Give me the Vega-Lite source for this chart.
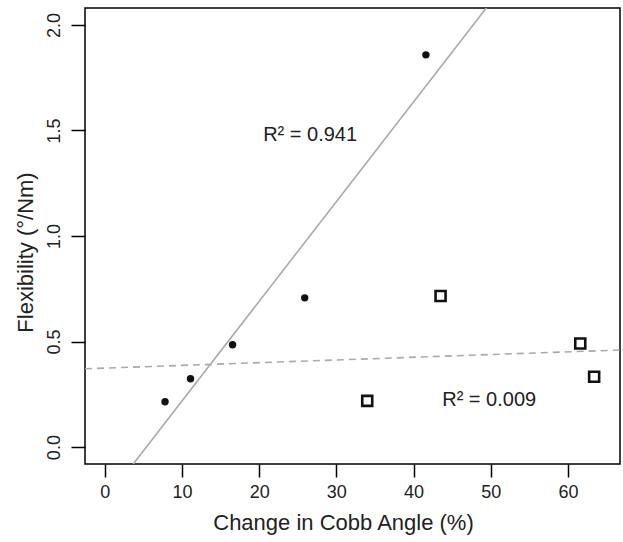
{
  "$schema": "https://vega.github.io/schema/vega-lite/v6.json",
  "autosize": {"type": "none"},
  "padding": {"left": 85, "top": 8, "right": 3, "bottom": 78},
  "width": 535,
  "height": 456,
  "background": "white",
  "config": {
    "view": {"stroke": "black", "strokeWidth": 1.5},
    "font": "Liberation Sans",
    "axis": {
      "grid": false,
      "domain": false,
      "ticks": true,
      "tickColor": "black",
      "tickWidth": 1.5,
      "labelColor": "#222222",
      "titleColor": "#222222",
      "labelFont": "Liberation Sans",
      "titleFont": "Liberation Sans",
      "titleFontWeight": "normal"
    }
  },
  "datasets": {
    "filled": [
      {"change": 7.8, "flex": 0.215},
      {"change": 11.1, "flex": 0.324},
      {"change": 16.55, "flex": 0.485},
      {"change": 25.9, "flex": 0.707},
      {"change": 41.6, "flex": 1.858}
    ],
    "open": [
      {"change": 34.0, "flex": 0.219},
      {"change": 43.5, "flex": 0.716},
      {"change": 61.6, "flex": 0.491},
      {"change": 63.4, "flex": 0.333}
    ],
    "fitFilled": [
      {"change": -2.57, "flex": -0.375},
      {"change": 66.75, "flex": 2.898}
    ],
    "fitOpen": [
      {"change": -2.57, "flex": 0.371},
      {"change": 66.75, "flex": 0.46}
    ],
    "labels": [
      {"change": 26.6, "flex": 1.479, "label": "R² = 0.941"},
      {"change": 49.8, "flex": 0.223, "label": "R² = 0.009"}
    ]
  },
  "encoding": {
    "x": {
      "field": "change",
      "type": "quantitative",
      "scale": {"domain": [-2.57, 66.75], "nice": false, "zero": false},
      "axis": {
        "title": "Change in Cobb Angle (%)",
        "values": [0, 10, 20, 30, 40, 50, 60],
        "tickSize": 13,
        "labelFontSize": 18,
        "labelPadding": 6,
        "titleFontSize": 22,
        "titlePadding": 11,
        "titleX": 258,
        "labelFlush": false
      }
    },
    "y": {
      "field": "flex",
      "type": "quantitative",
      "scale": {"domain": [-0.08, 2.08], "nice": false, "zero": false},
      "axis": {
        "title": "Flexibility (°/Nm)",
        "values": [0, 0.5, 1, 1.5, 2],
        "format": ".1f",
        "tickSize": 14,
        "labelAngle": -90,
        "labelAlign": "center",
        "labelBaseline": "bottom",
        "labelFontSize": 18,
        "labelPadding": 8,
        "titleFontSize": 22,
        "titlePadding": 8,
        "titleY": 244,
        "labelFlush": false
      }
    }
  },
  "layer": [
    {
      "data": {"name": "fitOpen"},
      "mark": {"type": "line", "color": "#aaaaaa", "strokeWidth": 1.6, "strokeDash": [7, 5], "clip": true}
    },
    {
      "data": {"name": "fitFilled"},
      "mark": {"type": "line", "color": "#aaaaaa", "strokeWidth": 1.6, "clip": true}
    },
    {
      "data": {"name": "filled"},
      "mark": {"type": "point", "shape": "circle", "filled": true, "color": "#111111", "size": 55, "opacity": 1}
    },
    {
      "data": {"name": "open"},
      "mark": {"type": "point", "shape": "square", "filled": false, "color": "#111111", "size": 100, "strokeWidth": 2.6, "opacity": 1}
    },
    {
      "data": {"name": "labels"},
      "mark": {"type": "text", "fontSize": 20, "color": "#222222", "align": "center", "baseline": "middle", "font": "Liberation Sans"},
      "encoding": {"text": {"field": "label"}}
    }
  ]
}
